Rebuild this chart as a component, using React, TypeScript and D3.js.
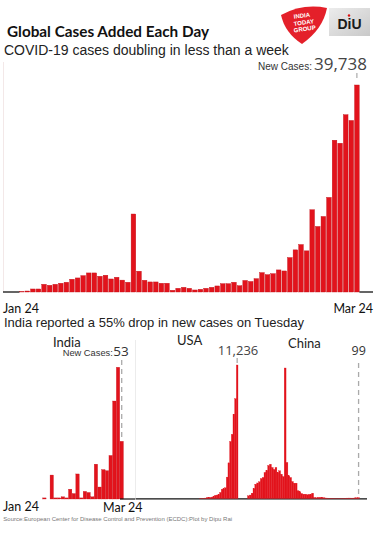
import React from 'react';
import * as d3 from 'd3';

// ---------- DATA ----------
const days: Date[] = d3.timeDay.range(new Date(2020, 0, 24), new Date(2020, 2, 25));
const dayLabels: string[] = days.map(d3.timeFormat('%b %d'));
const tickLabels = ['Jan 24', 'Mar 24'];

// Global new cases per day, Jan 24 – Mar 24
const globalCases = [
  100, 190, 580, 580, 1480, 1290, 1480, 1680, 1870, 2450,
  2700, 3140, 3660, 3660, 3020, 3220, 2500, 2830, 2280, 1870,
  14970, 3990, 2250, 1930, 1930, 1680, 1680, 330, 710, 900,
  710, 390, 520, 710, 900, 1160, 1600, 1600, 1870, 1210,
  2220, 2020, 2560, 3720, 3330, 3520, 4240, 4040, 6610, 8090,
  9110, 7900, 15790, 12580, 14500, 18160, 29140, 28560, 34030, 32930,
  39738,
];

// India, Mar 03 – Mar 24
const indiaDays = dayLabels.slice(39);
const indiaCases = [1, 0, 22, 1, 1, 2, 1, 9, 5, 23, 1, 7, 6, 2, 32, 11, 27, 26, 40, 90, 121, 53];

// USA, Jan 24 – Mar 24
const usaCases = [
  0, 0, 0, 0, 0, 0, 0, 0, 0, 0,
  0, 0, 0, 0, 0, 0, 0, 0, 0, 0,
  0, 0, 0, 0, 0, 0, 0, 0, 0, 0,
  0, 0, 0, 0, 0, 0, 0, 0, 14, 20,
  25, 35, 70, 100, 95, 120, 200, 270, 290, 350,
  510, 780, 820, 900, 1800, 3000, 4800, 5400, 7100, 8400,
  11236,
];

// China, Jan 24 – Mar 24
const chinaCases = [
  310, 400, 620, 1160, 1660, 1800, 1940, 2320, 2440, 3020,
  3250, 3830, 3980, 3600, 3370, 3600, 3020, 3210, 2820, 2550,
  15141, 4180, 2630, 2440, 1970, 1780, 1780, 890, 780, 580,
  500, 500, 430, 460, 500, 620, 120, 80, 130, 120,
  140, 100, 60, 45, 25, 35, 25, 20, 15, 20,
  25, 20, 30, 40, 45, 50, 45, 45, 70, 80,
  99,
];

const RED = '#e2131c';
const SANS = '"Liberation Sans", Arial, sans-serif';
const HUM = 'Lato, "Open Sans", sans-serif';
const NUM = '"Open Sans", sans-serif';

export default function App() {
  // main chart
  const xMain = d3.scaleBand<string>().domain(dayLabels).range([19.4, 359.2]).paddingInner(0.17);
  const yMain = d3.scaleLinear().domain([0, 39738]).range([292, 85]);
  const lastMain = dayLabels[dayLabels.length - 1];
  const lastMainX = (xMain(lastMain) as number) + xMain.bandwidth() / 2;

  // india
  const xInd = d3.scaleBand<string>().domain(indiaDays).range([42.7, 123.4]).paddingInner(0.08);
  const yInd = d3.scaleLinear().domain([0, 53]).range([499, 441.3]);
  const lastIndX = (xInd(indiaDays[indiaDays.length - 1]) as number) + xInd.bandwidth() / 2;

  // usa
  const xUsa = d3.scaleBand<string>().domain(dayLabels).range([136, 238]).padding(0);
  const yUsa = d3.scaleLinear().domain([0, 11236]).range([498.5, 365]);
  const lastUsaX = (xUsa(lastMain) as number) + xUsa.bandwidth() / 2;

  // china
  const xChn = d3.scaleBand<string>().domain(dayLabels).range([247.5, 359.5]).padding(0);
  const yChn = d3.scaleLinear().domain([0, 15141]).range([498.5, 368]);
  const lastChnX = (xChn(lastMain) as number) + xChn.bandwidth() / 2;

  return (
    <svg width={375} height={543} style={{ position: 'absolute', left: 0, top: 0, background: '#fff' }}>
      <rect x={0} y={0} width={375} height={543} fill="#fff" />

      {/* Logos */}
      <g>
        <path d="M281,15 Q303,3 327,8 Q323,29 302,44 Q285,33 281,15 Z" fill="#e4202a" />
        <g transform="rotate(-8 304 24)" fill="#fff" fontFamily={SANS} fontWeight="bold" fontSize={6} textAnchor="middle">
          <text x={303} y={17.5}>INDIA</text>
          <text x={304} y={24.5}>TODAY</text>
          <text x={304} y={31}>GROUP</text>
        </g>
        <defs>
          <linearGradient id="diu" x1="0" y1="0" x2="1" y2="1">
            <stop offset="0" stopColor="#ececec" />
            <stop offset="1" stopColor="#c9c9c9" />
          </linearGradient>
        </defs>
        <rect x={329} y={8} width={41} height={28} fill="url(#diu)" />
        <text x={349.5} y={29} textAnchor="middle" fontFamily={SANS} fontWeight="bold" fontSize={14} fill="#1a1a1a">DiU</text>
        <circle cx={349} cy={15.5} r={1.2} fill="#d11" />
      </g>

      {/* Titles */}
      <text x={7} y={37.3} fontFamily={HUM} fontWeight="bold" fontSize={15.3} fill="#111">Global Cases Added Each Day</text>
      <text x={4} y={54.5} fontFamily={SANS} fontSize={14} fill="#222">COVID-19 cases doubling in less than a week</text>

      {/* Main chart */}
      <line x1={3.5} x2={3.5} y1={62} y2={292} stroke="#f3e8e8" strokeWidth={1} />
      <line x1={lastMainX} x2={lastMainX} y1={73} y2={yMain(39738) - 6} stroke="#aaa" strokeWidth={1.2} strokeDasharray="5,4" />
      <text x={258} y={69.5} fontFamily={SANS} fontSize={10} fill="#333">New Cases:</text>
      <text x={314} y={69.5} fontFamily={NUM} fontSize={17} fill="#444">39,738</text>
      {globalCases.map((v, i) => (
        <rect key={i} x={xMain(dayLabels[i])} y={yMain(v)} width={xMain.bandwidth()} height={yMain(0) - yMain(v)}
          fill={RED} stroke="#c20f18" strokeWidth={0.4} />
      ))}
      <line x1={3} x2={19.4} y1={292} y2={292} stroke="#111" strokeWidth={1.3} />
      <line x1={359.4} x2={373} y1={292} y2={292} stroke="#111" strokeWidth={1.3} />
      <text x={3} y={313} fontFamily={HUM} fontSize={12.5} fill="#111">{tickLabels[0]}</text>
      <text x={373} y={313} textAnchor="end" fontFamily={HUM} fontSize={12.5} fill="#111">{tickLabels[1]}</text>

      <text x={4} y={326.7} fontFamily={SANS} fontSize={13} fill="#222">India reported a 55% drop in new cases on Tuesday</text>

      {/* India panel */}
      <text x={53} y={346.5} fontFamily={HUM} fontSize={13} fill="#222">India</text>
      <text x={62.7} y={356} fontFamily={SANS} fontSize={9.3} fill="#333">New Cases:</text>
      <text x={113.3} y={356} fontFamily={NUM} fontSize={13.5} fill="#333">53</text>
      <line x1={lastIndX} x2={lastIndX} y1={360} y2={yInd(53) - 1} stroke="#aaa" strokeWidth={1.3} strokeDasharray="5,4" />
      {indiaCases.map((v, i) => (
        <rect key={i} x={xInd(indiaDays[i])} y={yInd(v)} width={xInd.bandwidth()} height={yInd(0) - yInd(v)}
          fill={RED} stroke="#c20f18" strokeWidth={0.3} />
      ))}
      <line x1={120} x2={135} y1={499} y2={499} stroke="#111" strokeWidth={1.2} />
      <text x={3} y={511} fontFamily={HUM} fontSize={12.5} fill="#111">{tickLabels[0]}</text>
      <text x={103} y={511.5} fontFamily={HUM} fontSize={12.5} fill="#111">{tickLabels[1]}</text>

      {/* separator */}
      <line x1={135.5} x2={135.5} y1={340} y2={498} stroke="#ececec" strokeWidth={1} />

      {/* USA / China panel */}
      <line x1={135.5} x2={367} y1={498.8} y2={498.8} stroke="#111" strokeWidth={1.2} />
      <text x={177} y={345} fontFamily={HUM} fontSize={13} fill="#222">USA</text>
      <text x={238} y={355} textAnchor="middle" fontFamily={NUM} fontSize={13} fill="#444">11,236</text>
      <line x1={lastUsaX} x2={lastUsaX} y1={358} y2={yUsa(11236)} stroke="#aaa" strokeWidth={1.3} strokeDasharray="5,4" />
      {usaCases.map((v, i) => (
        <rect key={i} x={xUsa(dayLabels[i])} y={yUsa(v)} width={xUsa.bandwidth()} height={yUsa(0) - yUsa(v)}
          fill={RED} stroke={RED} strokeWidth={0.3} />
      ))}

      <text x={288} y={348} fontFamily={HUM} fontSize={13} fill="#222">China</text>
      <text x={358.7} y={355} textAnchor="middle" fontFamily={NUM} fontSize={12.5} fill="#333">99</text>
      <line x1={lastChnX} x2={lastChnX} y1={363} y2={yChn(99)} stroke="#aaa" strokeWidth={1.3} strokeDasharray="5,4" />
      {chinaCases.map((v, i) => (
        <rect key={i} x={xChn(dayLabels[i])} y={yChn(v)} width={xChn.bandwidth()} height={yChn(0) - yChn(v)}
          fill={RED} stroke={RED} strokeWidth={0.3} />
      ))}

      <text x={3.3} y={520.5} fontFamily={SANS} fontSize={6} fill="#777">Source:European Center for Disease Control and Prevention (ECDC):Plot by Dipu Rai</text>
    </svg>
  );
}
